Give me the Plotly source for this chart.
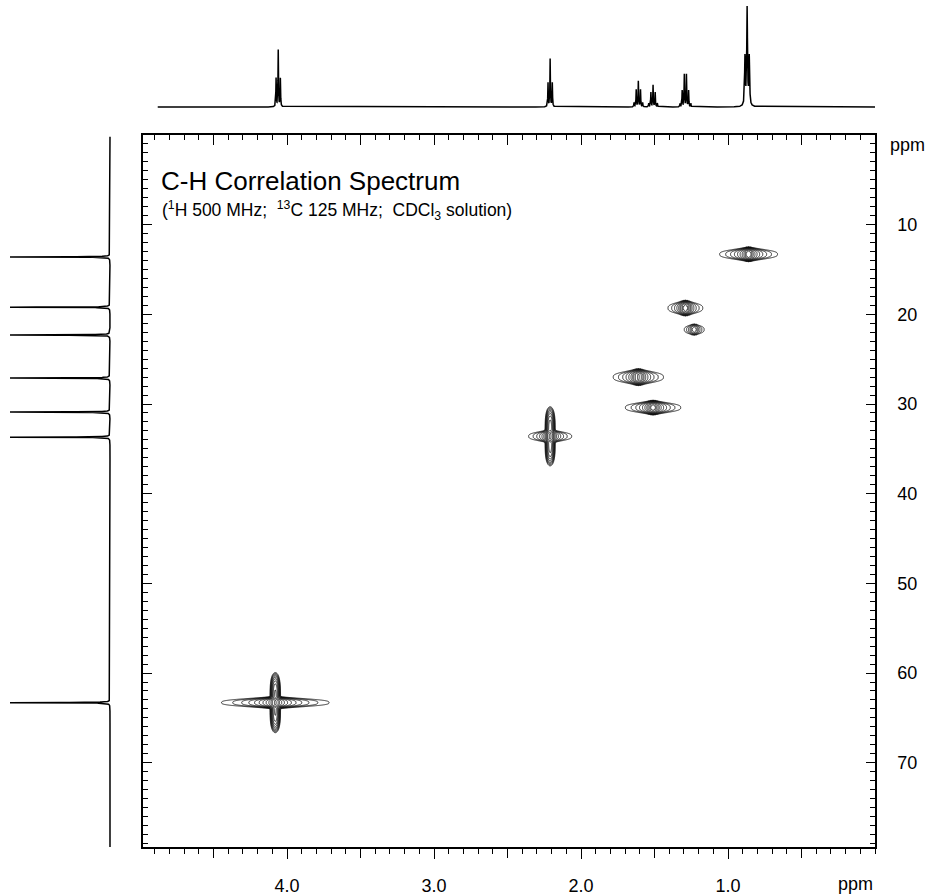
import math
import numpy as np
import plotly.graph_objects as go

# ---------------- data ----------------
# 1H projection (top): multiplet centres (ppm), relative heights, multiplicity
H_SHIFTS = [4.06, 2.21, 1.61, 1.51, 1.29, 0.87]
H_HEIGHTS = [0.57, 0.48, 0.26, 0.22, 0.33, 1.00]
H_MULT = [3, 3, 5, 5, 6, 3]
H_LINEWIDTH = [0.0018, 0.0018, 0.0018, 0.0018, 0.0018, 0.003]   # ppm (HWHM)
J_HZ = 7.3
H_FREQ_MHZ = 500
H_SPAN = [4.88, 0.0]          # ppm covered by the trace

# 13C projection (left)
C_SHIFTS = [13.6, 19.2, 22.3, 27.1, 30.9, 33.7, 63.3]
C_HEIGHTS = [1.0, 1.0, 1.0, 1.0, 1.0, 1.0, 1.0]
C_LINEWIDTH = 0.02            # ppm (HWHM)
C_SPAN = [0.2, 79.4]

# cross peaks (1H ppm, 13C ppm, amplitude, 1H width, 13C width, multiplicity, t1-streak)
XP_H = [0.86, 1.29, 1.23, 1.61, 1.51, 2.21, 4.08]
XP_C = [13.3, 19.3, 21.7, 27.0, 30.4, 33.6, 63.3]
XP_AMP = [1.0, 0.6, 0.15, 0.8, 0.9, 0.9, 1.5]
XP_WH = [0.026, 0.0195, 0.024, 0.025, 0.026, 0.020, 0.040]
XP_WC = [0.50, 0.55, 0.45, 0.58, 0.50, 0.47, 0.42]
XP_MULT = [3, 5, 3, 5, 5, 3, 3]
XP_STREAK = [0.0, 0.0, 0.0, 0.0, 0.0, 0.35, 0.45]
XP_CORE_W = 0.005
STREAK_WH = 0.013
STREAK_WC = 2.4

X_RANGE = [4.98, 0.0]
Y_RANGE = [79.4, 0.0]
X_LABEL_VALS = [4.0, 3.0, 2.0, 1.0]
X_LABELS = ["4.0", "3.0", "2.0", "1.0"]
X_HALF_VALS = [4.5, 3.5, 2.5, 1.5, 0.5]
X_ALL_MAJOR = [4.5, 4.0, 3.5, 3.0, 2.5, 2.0, 1.5, 1.0, 0.5]
Y_MAJOR = [10, 20, 30, 40, 50, 60, 70]
Y_LABELS = ["10", "20", "30", "40", "50", "60", "70"]

FONT = "Liberation Sans, Arial, sans-serif"
W, H = 937, 896


def lorentz(x, x0, w):
    return 1.0 / (1.0 + ((x - x0) / w) ** 2)


def multiplet(x, x0, n, j, w):
    out = np.zeros_like(x)
    for k in range(n):
        off = (k - (n - 1) / 2) * j
        out += math.comb(n - 1, k) * lorentz(x, x0 + off, w)
    return out / out.max()


# ---------------- 1H projection ----------------
j_ppm = J_HZ / H_FREQ_MHZ
hx = np.arange(H_SPAN[1], H_SPAN[0], 0.0003)
hspec = np.zeros_like(hx)
for d, h, n, lw in zip(H_SHIFTS, H_HEIGHTS, H_MULT, H_LINEWIDTH):
    hspec += h * multiplet(hx, d, n, j_ppm, lw)

# ---------------- 13C projection ----------------
cy = np.arange(C_SPAN[0], C_SPAN[1], 0.004)
cspec = np.zeros_like(cy)
for d, h in zip(C_SHIFTS, C_HEIGHTS):
    cspec += h * lorentz(cy, d, C_LINEWIDTH)

fig = go.Figure()

# ---------------- cross peaks (contours) ----------------
for h0, c0, a, wh, wc, n, s in zip(XP_H, XP_C, XP_AMP, XP_WH, XP_WC, XP_MULT, XP_STREAK):
    xs = np.linspace(h0 - 0.5, h0 + 0.5, 400)
    ys = np.linspace(c0 - 4.0, c0 + 4.0, 201)
    X, Y = np.meshgrid(xs, ys)
    xprof = 0.55 * lorentz(X, h0, wh) + 0.45 * multiplet(X, h0, n, j_ppm, XP_CORE_W)
    Z = a * xprof * np.exp(-np.abs((Y - c0) / wc) ** 3)
    Z += s * np.exp(-0.5 * ((X - h0) / STREAK_WH) ** 2) * np.exp(-(((Y - c0) / STREAK_WC) ** 4))
    fig.add_trace(go.Contour(
        x=xs, y=ys, z=np.log10(Z + 1e-9),
        autocontour=False,
        contours=dict(coloring="lines", start=-2.0, end=0.4, size=0.2, showlabels=False),
        line=dict(width=0.8, smoothing=0.8),
        colorscale=[[0, "black"], [1, "black"]],
        showscale=False, hoverinfo="skip",
        xaxis="x", yaxis="y",
    ))

# invisible helper traces so the extra tick axes are drawn
for ax in ("x4", "x5"):
    fig.add_trace(go.Scatter(x=XP_H, y=XP_C, mode="markers", marker=dict(opacity=0),
                             hoverinfo="skip", showlegend=False, xaxis=ax, yaxis="y"))

# top projection
fig.add_trace(go.Scatter(x=hx, y=hspec, mode="lines", line=dict(color="black", width=1.5),
                         hoverinfo="skip", showlegend=False, xaxis="x2", yaxis="y2"))
# left projection
fig.add_trace(go.Scatter(x=cspec, y=cy, mode="lines", line=dict(color="black", width=1.5),
                         hoverinfo="skip", showlegend=False, xaxis="x3", yaxis="y3"))

main_x = [143 / W, 875 / W]
main_y = [1 - 847 / H, 1 - 135 / H]

tickfont = dict(family=FONT, size=18, color="black")
minor_out = dict(tickmode="linear", tick0=0, dtick=0.1, ticks="outside",
                 ticklen=5, tickwidth=1, tickcolor="black", showgrid=False)
minor_in = dict(tickmode="linear", tick0=0, dtick=0.1, ticks="inside",
                ticklen=5, tickwidth=1, tickcolor="black", showgrid=False)

fig.update_layout(
    width=W, height=H,
    margin=dict(l=0, r=0, t=0, b=0),
    paper_bgcolor="white", plot_bgcolor="white",
    showlegend=False,
    xaxis=dict(
        domain=main_x, range=X_RANGE, anchor="y", side="bottom",
        showline=True, linecolor="black", linewidth=1.5, mirror=True,
        showgrid=False, zeroline=False,
        tickmode="array", tickvals=X_LABEL_VALS, ticktext=X_LABELS,
        ticks="outside", ticklen=10, tickwidth=1, tickcolor="black",
        minor=minor_out,
        tickfont=tickfont, ticklabelstandoff=12,
    ),
    xaxis5=dict(
        overlaying="x", range=X_RANGE, anchor="y", side="bottom",
        showline=False, showgrid=False, zeroline=False,
        tickmode="array", tickvals=X_HALF_VALS, showticklabels=False,
        ticks="outside", ticklen=10, tickwidth=1, tickcolor="black",
    ),
    xaxis4=dict(
        overlaying="x", range=X_RANGE, anchor="y", side="top",
        showline=False, showgrid=False, zeroline=False,
        tickmode="array", tickvals=X_ALL_MAJOR, showticklabels=False,
        ticks="inside", ticklen=10, tickwidth=1, tickcolor="black",
        minor=minor_in,
    ),
    yaxis=dict(
        domain=main_y, range=Y_RANGE, anchor="x", side="right",
        showline=True, linecolor="black", linewidth=1.5, mirror="ticks",
        showgrid=False, zeroline=False,
        tickmode="array", tickvals=Y_MAJOR, ticktext=Y_LABELS,
        ticks="inside", ticklen=9, tickwidth=1, tickcolor="black",
        minor=dict(tickmode="linear", tick0=0, dtick=1, ticks="inside",
                   ticklen=5, tickwidth=1, tickcolor="black", showgrid=False),
        tickfont=tickfont, ticklabelstandoff=17,
    ),
    xaxis2=dict(domain=main_x, range=X_RANGE, anchor="y2", visible=False),
    yaxis2=dict(domain=[1 - 117 / H, 1.0], range=[-10 / 101, 107 / 101],
                anchor="x2", visible=False),
    xaxis3=dict(domain=[0, 120 / W], range=[1.1, -0.1], anchor="y3", visible=False),
    yaxis3=dict(domain=main_y, range=Y_RANGE, anchor="x3", visible=False),
    annotations=[
        dict(text="C-H Correlation Spectrum", x=159 / W, y=1 - 181 / H,
             xref="paper", yref="paper", xanchor="left", yanchor="middle",
             showarrow=False, font=dict(family=FONT, size=26, color="black")),
        dict(text="(<sup>1</sup>H 500 MHz;\u00a0 <sup>13</sup>C 125 MHz;\u00a0 CDCl<sub>3</sub> solution)",
             x=160 / W, y=1 - 211 / H,
             xref="paper", yref="paper", xanchor="left", yanchor="middle",
             showarrow=False, font=dict(family=FONT, size=17.5, color="black")),
        dict(text="ppm", x=855 / W, y=1 - 884 / H, xref="paper", yref="paper",
             xanchor="center", yanchor="middle", showarrow=False,
             font=dict(family=FONT, size=18, color="black")),
        dict(text="ppm", x=907 / W, y=1 - 145 / H, xref="paper", yref="paper",
             xanchor="center", yanchor="middle", showarrow=False,
             font=dict(family=FONT, size=18, color="black")),
    ],
)

fig.write_html("out.html", config={"displayModeBar": False},
               post_script="document.body.style.margin='0px';")
